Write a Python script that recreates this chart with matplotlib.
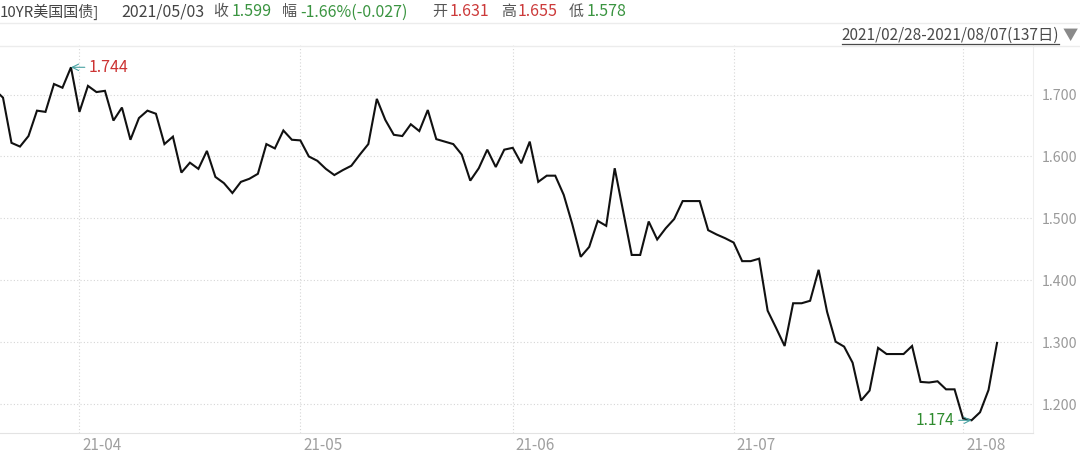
import matplotlib
matplotlib.use("Agg")
import matplotlib.pyplot as plt
from matplotlib.lines import Line2D
import matplotlib.transforms as mtrans
import numpy as np

plt.rcParams['font.family'] = ['Noto Sans CJK SC', 'DejaVu Sans']

# ---- data (daily 10Y US Treasury yield) ----
yields = [1.708,
          1.695, 1.622, 1.616, 1.633, 1.674, 1.672, 1.717, 1.711, 1.744, 1.672,
          1.714, 1.704, 1.706, 1.658, 1.679, 1.627, 1.662, 1.674, 1.669, 1.620,
          1.632, 1.574, 1.590, 1.580, 1.609, 1.567, 1.557, 1.541, 1.559, 1.564,
          1.572, 1.620, 1.613, 1.642, 1.627, 1.626, 1.600, 1.593, 1.580, 1.570,
          1.578, 1.585, 1.603, 1.620, 1.693, 1.659, 1.635, 1.633, 1.652, 1.641,
          1.675, 1.628, 1.624, 1.620, 1.603, 1.561, 1.581, 1.611, 1.583, 1.611,
          1.614, 1.589, 1.624, 1.559, 1.569, 1.569, 1.538, 1.491, 1.438, 1.454,
          1.496, 1.488, 1.581, 1.511, 1.441, 1.441, 1.495, 1.466, 1.484, 1.499,
          1.528, 1.528, 1.528, 1.481, 1.474, 1.468, 1.461, 1.431, 1.431, 1.435,
          1.351, 1.323, 1.294, 1.363, 1.363, 1.367, 1.417, 1.349, 1.301, 1.293,
          1.267, 1.206, 1.222, 1.291, 1.281, 1.281, 1.281, 1.294, 1.236, 1.235,
          1.237, 1.224, 1.224, 1.177, 1.174, 1.187, 1.223, 1.299]
month_tick_index = [10, 36, 61, 87, 114]
month_tick_labels = ['21-04', '21-05', '21-06', '21-07', '21-08']
y_ticks = [1.2, 1.3, 1.4, 1.5, 1.6, 1.7]

header_title = '10YR美国国债]'
header_date = '2021/05/03'
header_items = [('收', '1.599', 'g'), ('幅', '-1.66%(-0.027)', 'g'),
                ('开', '1.631', 'r'), ('高', '1.655', 'r'), ('低', '1.578', 'g')]
range_text = '2021/02/28-2021/08/07(137日)'

W, H = 1080, 459
fig = plt.figure(figsize=(W / 100, H / 100), dpi=100)
ax = fig.add_axes([0, 26 / H, 1033 / W, 388 / H])

x = np.arange(len(yields))
y = np.array(yields)
ax.plot(x, y, color='#111111', lw=1.5, solid_joinstyle='miter', zorder=3)

ax.set_xlim((5.5) / 8.496, (1033 + 5.5) / 8.496)
ax.set_ylim(1.1535, 1.780)

ax.set_yticks(y_ticks)
ax.set_yticklabels([f'{v:.3f}' for v in y_ticks])
ax.yaxis.tick_right()
ax.tick_params(axis='y', length=0, pad=6, labelsize=10.2, labelcolor='#9a9a9a')
for lab in ax.get_yticklabels():
    lab.set_horizontalalignment('left')

ax.set_xticks(month_tick_index)
ax.set_xticklabels(month_tick_labels)
ax.tick_params(axis='x', length=0, pad=3, labelsize=11, labelcolor='#a0a0a0')
offs = mtrans.ScaledTranslation(3 / 100, 0, fig.dpi_scale_trans)
for lab in ax.get_xticklabels():
    lab.set_horizontalalignment('left')
    lab.set_transform(lab.get_transform() + offs)

ax.grid(True, linestyle=(0, (1, 2)), color='#d6d6d6', lw=0.8)
for s in ['top', 'left']:
    ax.spines[s].set_visible(False)
ax.spines['bottom'].set_color('#e3e3e3')
ax.spines['right'].set_color('#eeeeee')

# max / min annotations
imax = int(np.argmax(y))
imin = int(np.argmin(y))
ax.annotate(f'{y[imax]:.3f}', xy=(x[imax], y[imax]), xytext=(18, 0),
            textcoords='offset pixels', ha='left', va='center',
            fontsize=11.5, color='#cc3333',
            arrowprops=dict(arrowstyle='->', color='#4aa3a3', lw=0.8,
                            shrinkA=1, shrinkB=0))
ax.annotate(f'{y[imin]:.3f}', xy=(x[imin], y[imin]), xytext=(-17, 0),
            textcoords='offset pixels', ha='right', va='center',
            fontsize=11.2, color='#2e8b2e',
            arrowprops=dict(arrowstyle='->', color='#4aa3a3', lw=0.8,
                            shrinkA=1, shrinkB=0))

# ---- header ----
def fx(px):
    return px / W

def fy(py):
    return 1 - py / H

GREEN = '#3a9440'
RED = '#cc3a3a'
fs = 11.5
fig.text(fx(0), fy(12), header_title, fontsize=10.8, color='#444444', va='center', ha='left')
fig.text(fx(121), fy(12), header_date, fontsize=fs, color='#444444', va='center', ha='left')
positions = [(213, 232), (282, 300), (432, 450), (501, 518), (569, 587)]
for (lbl, val, c), (px1, px2) in zip(header_items, positions):
    fig.text(fx(px1), fy(12), lbl, fontsize=10.8, color='#555555', va='center', ha='left')
    fig.text(fx(px2), fy(12), val, fontsize=fs, color=GREEN if c == 'g' else RED,
             va='center', ha='left')

fig.add_artist(Line2D([0, 1], [fy(23), fy(23)], color='#ececec', lw=1))
fig.add_artist(Line2D([0, 1], [fy(45.5), fy(45.5)], color='#ececec', lw=1))

fig.text(fx(1059), fy(35), range_text, fontsize=11.1, color='#4a4a4a',
         va='center', ha='right')
fig.add_artist(Line2D([fx(842), fx(1059)], [fy(43.5), fy(43.5)], color='#4a4a4a', lw=0.9))
fig.text(fx(1070), fy(35), '▼', fontsize=11, color='#8a8a8a', va='center', ha='center')

fig.savefig('out.png', dpi=100)
